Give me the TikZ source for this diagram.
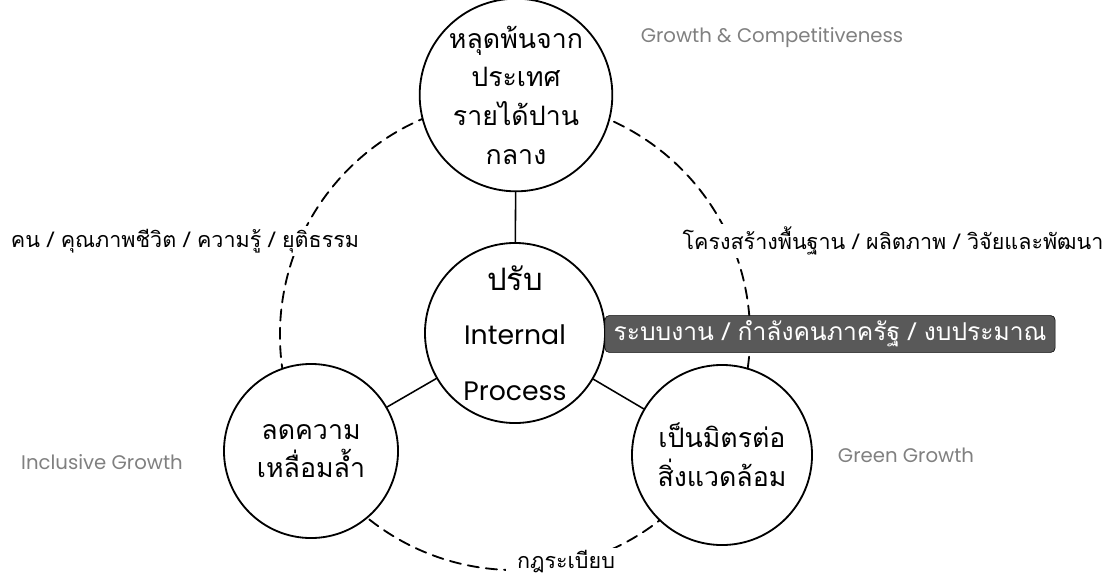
\documentclass[tikz,border=0pt]{standalone}
\usepackage{fontspec}
\setmainfont{Poppins}
\newfontfamily\thaifont[Script=Thai]{Loma}
\begin{document}
\begin{tikzpicture}[x=0.025cm, y=-0.025cm, line join=round, line cap=round,
    bubble/.style={circle, draw, line width=1.3pt, fill=white, minimum size=4.5cm, inner sep=0pt,
        align=center, font=\thaifont\fontsize{19}{27.5}\selectfont},
    ring/.style={line width=1.3pt, dash pattern=on 8pt off 5pt},
    tag/.style={text=black!50, font=\fontsize{14}{16}\selectfont},
    theme/.style={fill=white, inner sep=2pt, font=\thaifont\fontsize{15.3}{18}\selectfont},
    govbar/.style={draw, fill=black!65, text=white, rounded corners=3pt, minimum width=11.25cm,
        minimum height=0.92cm, inner sep=0pt, font=\thaifont\fontsize{17.5}{18}\selectfont}]
                \useasboundingbox (0,0) rectangle (1120,580);
                \coordinate (hub) at (515,335);
                \draw[ring] (hub) circle (5.875cm);
                % the three growth goals round the centre
                \node[bubble] (income) at (516,95) {หลุดพ้นจาก\\ประเทศ\\รายได้ปาน\\กลาง};
                \node[bubble] (core) at (515,333) {{\fontsize{22}{28}\selectfont ปรับ}\\[11pt]
                    {\normalfont\fontsize{19}{26}\selectfont Internal}\\[12pt]
                    {\normalfont\fontsize{19}{26}\selectfont Process}};
                \node[bubble, minimum size=4.35cm] (equity) at (311,451) {ลดความ\\เหลื่อมล้ำ};
                \node[bubble] (green) at (722,455) {เป็นมิตรต่อ\\สิ่งแวดล้อม};
                \draw[line width=1.1pt]
                (income) -- (core)
                (core) -- (equity)
                (core) -- (green)
                ;
                % texts on the dashed ring
                \node[theme] (people) at (185,241) {คน / คุณภาพชีวิต / ความรู้ / ยุติธรรม};
                \node[theme] (infra) at (893,241) {โครงสร้างพื้นฐาน / ผลิตภาพ / วิจัยและพัฒนา};
                \node[theme, inner xsep=8pt] (rules) at (566,562) {กฎระเบียบ};
                \node[govbar] (gov) at (830,334) {ระบบงาน / กำลังคนภาครัฐ / งบประมาณ};
                \node[tag] (compete) at (772,38) {Growth \& Competitiveness};
                \node[tag] (inclusive) at (102,462) {Inclusive Growth};
                \node[tag] (greenlbl) at (906,455) {Green Growth};
\end{tikzpicture}
\end{document}
